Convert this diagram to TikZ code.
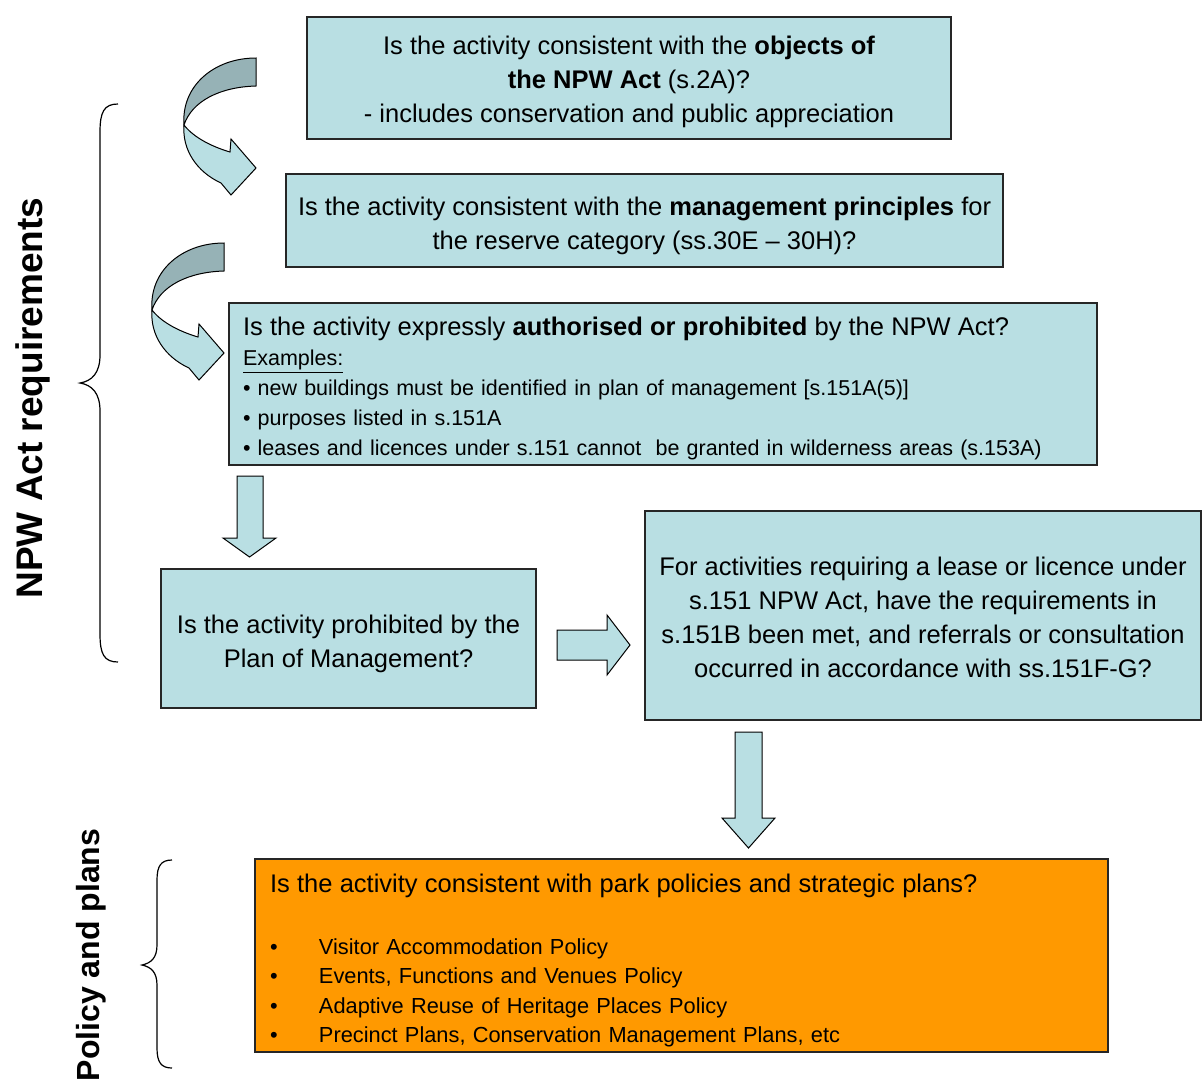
\documentclass[tikz,border=0pt]{standalone}
\usepackage{fontspec}
\setmainfont{Liberation Sans}
\definecolor{boxblue}{RGB}{185,223,227}
\definecolor{ribbon}{RGB}{150,178,182}
\definecolor{boxorange}{RGB}{255,153,0}
\newcommand\firstlift[1]{\rule{0pt}{#1}}
\tikzset{
  box/.style={draw=black!85, line width=0.6pt, fill=boxblue, align=center, inner sep=0pt,
    font=\fontsize{12.75pt}{17pt}\selectfont},
  blockarrow/.style={draw=black, line width=0.5pt, fill=boxblue, line join=miter},
  ribbonback/.style={draw=black, line width=0.5pt, fill=ribbon},
  ribbonfront/.style={draw=black, line width=0.5pt, fill=boxblue, line join=miter},
  bracepath/.style={draw=black, line width=0.6pt},
  sidelabel/.style={rotate=90, anchor=base, inner sep=0pt}
}
\begin{document}
\begin{tikzpicture}[x=0.5pt,y=-0.5pt]
\useasboundingbox (0,0) rectangle (1202,1082);
\fill[white] (0,0) rectangle (1202,1082);

% boxes
\node[box, minimum width=322pt, minimum height=61pt] (b1) at (629,78)
 {\firstlift{13.4pt}Is the activity consistent with the \textbf{objects of}\\
  \textbf{the NPW Act} (s.2A)?\\
  - includes conservation and public appreciation};

\node[box, minimum width=358.5pt, minimum height=46.5pt] (b2) at (644.5,220.5)
 {\firstlift{14.4pt}Is the activity consistent with the \textbf{management principles} for\\
  the reserve category (ss.30E – 30H)?};

\node[box, minimum width=434pt, minimum height=81pt, align=left, text width=420pt,
      inner xsep=7pt, font=\fontsize{10.75pt}{15pt}\selectfont] (b3) at (663,384)
 {{\fontsize{12.75pt}{15pt}\selectfont\firstlift{13.6pt}Is the activity expressly \textbf{authorised or prohibited} by the NPW Act?}\\
  \underline{Examples:}\\
  • new buildings must be identified in plan of management [s.151A(5)]\\
  • purposes listed in s.151A\\
  • leases and licences under s.151 cannot\ \ be granted in wilderness areas (s.153A)};

\node[box, minimum width=187.5pt, minimum height=69.5pt] (b4) at (348.5,638.5)
 {\firstlift{14.4pt}Is the activity prohibited by the\\ Plan of Management?};

\node[box, minimum width=278pt, minimum height=104.5pt] (b5) at (923,615.5)
 {\firstlift{11.4pt}For activities requiring a lease or licence under\\
  s.151 NPW Act, have the requirements in\\
  s.151B been met, and referrals or consultation\\
  occurred in accordance with ss.151F-G?};

\node[box, fill=boxorange, minimum width=426.5pt, minimum height=96.5pt, align=left,
      text width=411.5pt, inner xsep=7.5pt, font=\fontsize{10.9pt}{14.7pt}\selectfont] (b6) at (681.5,955.5)
 {{\fontsize{12.75pt}{14.7pt}\selectfont\firstlift{14.4pt}Is the activity consistent with park policies and strategic plans?}\\[16.3pt]
  \makebox[24.5pt][l]{•}Visitor Accommodation Policy\\
  \makebox[24.5pt][l]{•}Events, Functions and Venues Policy\\
  \makebox[24.5pt][l]{•}Adaptive Reuse of Heritage Places Policy\\
  \makebox[24.5pt][l]{•}Precinct Plans, Conservation Management Plans, etc};

% straight block arrows
\draw[blockarrow] (237,476) -- (263,476) -- (263,538) -- (276,538) -- (249.5,557)
  -- (223,538) -- (237,538) -- cycle;
\draw[blockarrow] (557,630) -- (607,630) -- (607,615) -- (630,645) -- (607,675)
  -- (607,660) -- (557,660) -- cycle;
\draw[blockarrow] (735,732) -- (762,732) -- (762,818) -- (775,818) -- (748.5,848)
  -- (722,818) -- (735,818) -- cycle;

% curved ribbon arrows
\foreach \dx/\dy in {0/0, -32/185} {
  \begin{scope}[shift={(\dx,\dy)}]
    \draw[ribbonback] (256,58) .. controls (214,58) and (181,86) .. (184,125)
      .. controls (192,101) and (220,87) .. (256,86) -- cycle;
    \draw[ribbonfront] (184,125) .. controls (182,150) and (197,172) .. (221,183)
      -- (231,195) -- (256,168) -- (231,139) -- (230,152)
      .. controls (213,147) and (194,138) .. (184,125) -- cycle;
  \end{scope}
}

% braces
\draw[bracepath] (118,104) .. controls (104,104) and (100,112) .. (100,132) -- (100,355)
  .. controls (100,373) and (92,381) .. (80,383) .. controls (92,385) and (100,393) .. (100,411)
  -- (100,634) .. controls (100,654) and (104,662) .. (118,662);
\draw[bracepath] (172,860) .. controls (161,860) and (157,866) .. (157,880) -- (157,945)
  .. controls (157,958) and (151,963) .. (142,965) .. controls (151,967) and (157,972) .. (157,985)
  -- (157,1048) .. controls (157,1062) and (161,1068) .. (172,1068);

% side labels
\node[sidelabel, font=\fontsize{18.5pt}{20pt}\selectfont\bfseries] (lab1) at (42,398) {NPW Act requirements};
\node[sidelabel, font=\fontsize{16pt}{18pt}\selectfont\bfseries] (lab2) at (99,955) {Policy and plans};
\end{tikzpicture}
\end{document}
